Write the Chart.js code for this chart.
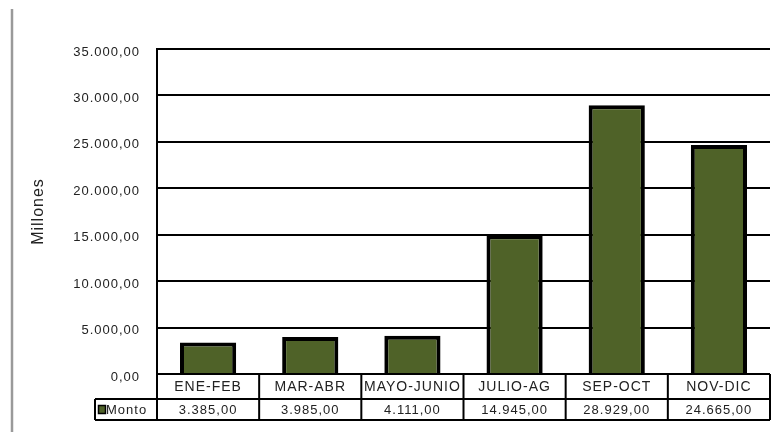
<!DOCTYPE html>
<html>
<head>
<meta charset="utf-8">
<script src="https://cdn.jsdelivr.net/npm/chart.js@4/dist/chart.umd.min.js"></script>
<style>
  html, body { margin: 0; padding: 0; background: #fff; }
  #wrap { width: 772px; height: 432px; position: relative; }
</style>
</head>
<body>
<div id="wrap"><canvas id="c" width="772" height="432"></canvas></div>
<script>
const categories = ['ENE-FEB', 'MAR-ABR', 'MAYO-JUNIO', 'JULIO-AG', 'SEP-OCT', 'NOV-DIC'];
const seriesName = 'Monto';
const values = [3385, 3985, 4111, 14945, 28929, 24665];
const yAxisTitle = 'Millones';
const yMin = 0;
const yMax = 35000;
const yStep = 5000;

const FONT = "'Liberation Sans', Arial, sans-serif";
const BAR_COLOR = '#4f6228';
const TEXT_COLOR = '#222222';

function fmt(v) {
  const fixed = Math.abs(v).toFixed(2);
  let [ip, dp] = fixed.split('.');
  ip = ip.replace(/\B(?=(\d{3})+(?!\d))/g, '.');
  return (v < 0 ? '-' : '') + ip + ',' + dp;
}

const spacingPlugin = {
  id: 'spacing',
  beforeDraw(chart) {
    chart.ctx.letterSpacing = '1px';
    const ctx = chart.ctx;
    ctx.save();
    ctx.strokeStyle = '#9a9a9a';
    ctx.lineWidth = 2.5;
    ctx.beginPath();
    ctx.moveTo(12, 9);
    ctx.lineTo(12, 432);
    ctx.stroke();
    ctx.restore();
  }
};

const tablePlugin = {
  id: 'dataTable',
  afterDraw(chart) {
    const ctx = chart.ctx;
    const ca = chart.chartArea;
    const xs = chart.scales.x;
    const n = categories.length;
    const centers = categories.map((_, i) => xs.getPixelForValue(i));
    const bounds = [ca.left];
    for (let i = 0; i < n - 1; i++) bounds.push((centers[i] + centers[i + 1]) / 2);
    bounds.push(ca.right);
    const top = ca.bottom, mid = top + 25, bot = mid + 21;
    const legendLeft = 95;

    ctx.save();
    ctx.letterSpacing = '1px';
    ctx.strokeStyle = '#000';
    ctx.lineWidth = 2;
    ctx.beginPath();
    ctx.moveTo(ca.left, top); ctx.lineTo(ca.right, top);
    ctx.moveTo(legendLeft, mid); ctx.lineTo(ca.right, mid);
    ctx.moveTo(legendLeft, bot); ctx.lineTo(ca.right, bot);
    bounds.forEach(b => { ctx.moveTo(b, top); ctx.lineTo(b, bot); });
    ctx.moveTo(legendLeft, mid); ctx.lineTo(legendLeft, bot);
    ctx.stroke();

    ctx.fillStyle = TEXT_COLOR;
    ctx.textAlign = 'center';
    ctx.textBaseline = 'middle';
    for (let i = 0; i < n; i++) {
      const cx = (bounds[i] + bounds[i + 1]) / 2;
      ctx.save();
      ctx.font = '14px ' + FONT;
      ctx.beginPath();
      ctx.rect(bounds[i] + 1, top, bounds[i + 1] - bounds[i] - 2, mid - top);
      ctx.clip();
      ctx.fillText(categories[i], cx, (top + mid) / 2 + 1);
      ctx.restore();
      ctx.font = '13px ' + FONT;
      ctx.fillText(fmt(values[i]), cx, (mid + bot) / 2 + 1);
    }
    // legend key
    ctx.fillStyle = BAR_COLOR;
    ctx.strokeStyle = '#000';
    ctx.lineWidth = 1.5;
    ctx.beginPath();
    ctx.rect(98.5, mid + 6.5, 7, 8);
    ctx.fill();
    ctx.stroke();
    ctx.fillStyle = TEXT_COLOR;
    ctx.font = '13px ' + FONT;
    ctx.textAlign = 'left';
    ctx.fillText(seriesName, 106, (mid + bot) / 2 + 1);
    ctx.restore();
  }
};

new Chart(document.getElementById('c'), {
  type: 'bar',
  data: {
    labels: categories,
    datasets: [{
      label: seriesName,
      data: values,
      backgroundColor: BAR_COLOR,
      borderColor: '#000',
      borderWidth: 4,
      barPercentage: 0.55,
      categoryPercentage: 1.0
    }]
  },
  options: {
    responsive: false,
    devicePixelRatio: 1,
    animation: false,
    layout: { padding: { left: 25, right: 2, top: 49, bottom: 58 } },
    plugins: { legend: { display: false }, tooltip: { enabled: false } },
    scales: {
      x: { display: false, offset: true },
      y: {
        min: yMin, max: yMax,
        afterFit(scale) { scale.width = 157 - 25; },
        border: { display: true, color: '#000', width: 2 },
        grid: { color: '#000', lineWidth: 2, drawTicks: false },
        ticks: {
          stepSize: yStep,
          padding: 17,
          labelOffset: 3,
          color: TEXT_COLOR,
          font: { family: FONT, size: 13 },
          callback: v => fmt(v)
        },
        title: {
          display: true,
          text: yAxisTitle,
          color: TEXT_COLOR,
          font: { family: FONT, size: 16 },
          padding: { top: 4, bottom: 0 }
        }
      }
    }
  },
  plugins: [spacingPlugin, tablePlugin]
});
</script>
</body>
</html>
